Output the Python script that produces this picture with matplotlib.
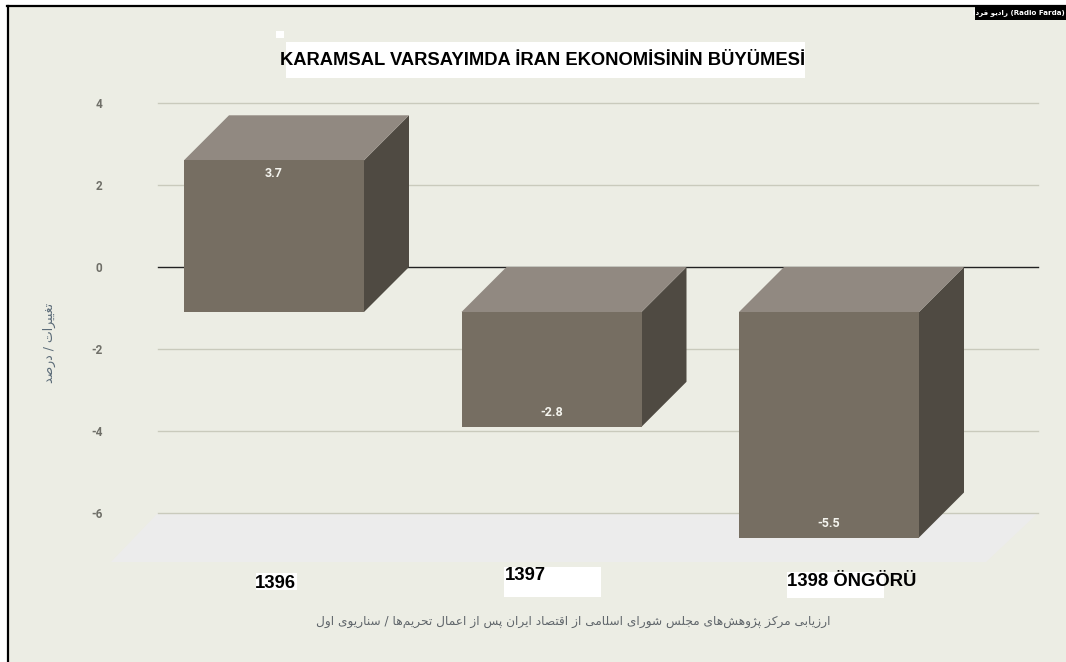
import matplotlib
matplotlib.use('Agg')
import matplotlib.pyplot as plt
from matplotlib.patches import Polygon, Rectangle

# Valori
categories = ['1396', '1397', '1398 ÖNGÖRÜ']
values = [3.7, -2.8, -5.5]
value_labels = ['3.7', '-2.8', '-5.5']
y_ticks = [4, 2, 0, -2, -4, -6]

title = 'KARAMSAL VARSAYIMDA İRAN EKONOMİSİNİN BÜYÜMESİ'
y_label = 'تغییرات / درصد'
footer = 'ارزیابی مرکز پژوهش‌های مجلس شورای اسلامی از اقتصاد ایران پس از اعمال تحریم‌ها / سناریوی اول'
credit_fa = 'رادیو فردا'
credit_en = ' (Radio Farda)'

W, H = 1066, 662
BG = '#ecede4'
FRONT = '#766e62'
TOP = '#918981'
SIDE = '#4f4a42'
GRID = '#c9cabc'

# Forme di presentazione: (isolata, finale, iniziale, mediana)
FORMS = {
    'ا': 'ﺍﺎ', 'د': 'ﺩﺪ', 'ذ': 'ﺫﺬ', 'ر': 'ﺭﺮ', 'ز': 'ﺯﺰ', 'ژ': 'ﮊﮋ', 'و': 'ﻭﻮ',
    'ب': 'ﺏﺐﺑﺒ', 'پ': 'ﭖﭗﭘﭙ', 'ت': 'ﺕﺖﺗﺘ', 'ج': 'ﺝﺞﺟﺠ', 'ح': 'ﺡﺢﺣﺤ', 'س': 'ﺱﺲﺳﺴ',
    'ش': 'ﺵﺶﺷﺸ', 'ص': 'ﺹﺺﺻﺼ', 'ض': 'ﺽﺾﺿﻀ', 'ع': 'ﻉﻊﻋﻌ', 'غ': 'ﻍﻎﻏﻐ', 'ف': 'ﻑﻒﻓﻔ',
    'ق': 'ﻕﻖﻗﻘ', 'ک': 'ﮎﮏﮐﮑ', 'ل': 'ﻝﻞﻟﻠ', 'م': 'ﻡﻢﻣﻤ', 'ن': 'ﻥﻦﻧﻨ', 'ه': 'ﻩﻪﻫﻬ',
    'ی': 'ﯼﯽﯾﯿ',
}


def shape_fa(text):
    """Unisce le lettere e le mette in ordine visivo, matplotlib non lo fa."""
    out = []
    for i, ch in enumerate(text):
        if ch not in FORMS:
            if ch != '\u200c':
                out.append(ch)
            continue
        prev = text[i - 1] if i > 0 else ' '
        nxt = text[i + 1] if i + 1 < len(text) else ' '
        joins_prev = prev in FORMS and len(FORMS[prev]) == 4
        joins_next = nxt in FORMS and len(FORMS[ch]) == 4
        idx = {(False, False): 0, (True, False): 1, (False, True): 2, (True, True): 3}[(joins_prev, joins_next)]
        out.append(FORMS[ch][idx])
    return ''.join(reversed(out))


def fx(px):
    return px / W


def fy(px):
    return 1 - px / H


plt.rcParams['font.family'] = ['Liberation Sans', 'DejaVu Sans']
plt.rcParams['axes.unicode_minus'] = False

fig = plt.figure(figsize=(W / 100, H / 100), dpi=100, facecolor='white')

# Sfondo con cornice nera sopra e a sinistra
fig.patches.append(Rectangle((fx(7), 0), fx(1059), fy(6), transform=fig.transFigure,
                             facecolor=BG, edgecolor='none', zorder=-5))
fig.add_artist(plt.Line2D([fx(8), fx(8)], [fy(6), 0], color='black', lw=1.6))
fig.add_artist(plt.Line2D([fx(7), fx(1066)], [fy(6), fy(6)], color='black', lw=1.6))

# L'area dati coincide con il piano di fondo del grafico
ax = fig.add_axes([fx(158), fy(513), fx(880), fy(103) - fy(513)])
ax.patch.set_visible(False)
px_per_cat = 277.5
px_per_unit = 41.0
ax.set_xlim((158 - 319) / px_per_cat, (1038 - 319) / px_per_cat)
ax.set_ylim(-6, 4)
for s in ax.spines.values():
    s.set_visible(False)

ax.set_xticks([])
ax.set_yticks(y_ticks)
ax.set_yticklabels([str(t) for t in y_ticks], fontsize=8.5, fontweight='bold', color='#6f6f68',
                   family=['Roboto', 'DejaVu Sans'])
ax.tick_params(axis='y', length=0, pad=40)
for t in y_ticks:
    ax.axhline(t, color='#222222' if t == 0 else GRID, lw=1, zorder=1, clip_on=False)

dx = 45 / px_per_cat
dy = 45 / px_per_unit
half = 90 / px_per_cat

# Pavimento del grafico
x_l, x_r = ax.get_xlim()
floor = [(x_l, -6), (x_r, -6), (x_r - 52 / px_per_cat, -6 - 49 / px_per_unit), (x_l - 47 / px_per_cat, -6 - 49 / px_per_unit)]
ax.add_patch(Polygon(floor, closed=True, facecolor='#ececec', edgecolor='none', zorder=0, clip_on=False))

# Barre 3D: il valore sta sul piano di fondo, la faccia frontale e' spostata
for i, val in enumerate(values):
    hi = max(val, 0)
    lo = min(val, 0)
    fl, fr = i - half - dx, i + half - dx
    bl, br = i - half, i + half
    ax.add_patch(Polygon([(fr, lo - dy), (br, lo), (br, hi), (fr, hi - dy)], facecolor=SIDE,
                         edgecolor='none', zorder=3, clip_on=False))
    ax.add_patch(Polygon([(fl, hi - dy), (bl, hi), (br, hi), (fr, hi - dy)], facecolor=TOP,
                         edgecolor='none', zorder=3, clip_on=False))
    ax.add_patch(Polygon([(fl, lo - dy), (fr, lo - dy), (fr, hi - dy), (fl, hi - dy)], facecolor=FRONT,
                         edgecolor='none', zorder=4, clip_on=False))
    anchor = hi - dy if val > 0 else lo - dy
    off = -9.5 if val > 0 else 10.2
    ax.annotate(value_labels[i], (i - dx, anchor), xytext=(0, off), textcoords='offset points',
                ha='center', va='center', color='#f4f4ee', fontsize=9, fontweight='bold',
                family=['Roboto', 'DejaVu Sans'], zorder=6, annotation_clip=False)

# Toppe bianche come nell'originale
patches_px = [(276, 31, 8, 7), (286, 42, 519, 36), (256, 573, 41, 17), (504, 567, 97, 30), (787, 572, 97, 26)]
for x, y, w, h in patches_px:
    fig.add_artist(Rectangle((fx(x), fy(y + h)), fx(w), fy(y) - fy(y + h), transform=fig.transFigure,
                             facecolor='white', edgecolor='none', zorder=7))

fig.text(fx(542.5), fy(60.5), title, ha='center', va='center', fontsize=13.2, fontweight='bold', color='black', zorder=8)
label_xy = [(275, 583), (525, 576), (852, 582)]
for lab, (x, y) in zip(categories, label_xy):
    fig.text(fx(x), fy(y), lab, ha='center', va='center', fontsize=13.3, fontweight='bold', color='black', zorder=8)

fig.text(fx(573.5), fy(621), shape_fa(footer), ha='center', va='center', fontsize=8.7,
         color='#5f656a', family=['DejaVu Sans'], zorder=8)
fig.text(fx(49), fy(343), shape_fa(y_label), ha='center', va='center', rotation=90, fontsize=9,
         color='#5b6b78', family=['DejaVu Sans'], zorder=8)

# Etichetta in alto a destra
fig.add_artist(Rectangle((fx(975), fy(20)), fx(91), fy(5) - fy(20), transform=fig.transFigure,
                         facecolor='black', edgecolor='none', zorder=8))
fig.text(fx(1065), fy(12.5), shape_fa(credit_fa) + credit_en, ha='right', va='center', fontsize=5.1,
         fontweight='bold', color='white', family=['DejaVu Sans'], zorder=9)

fig.savefig('out.png', dpi=100, facecolor='white')
